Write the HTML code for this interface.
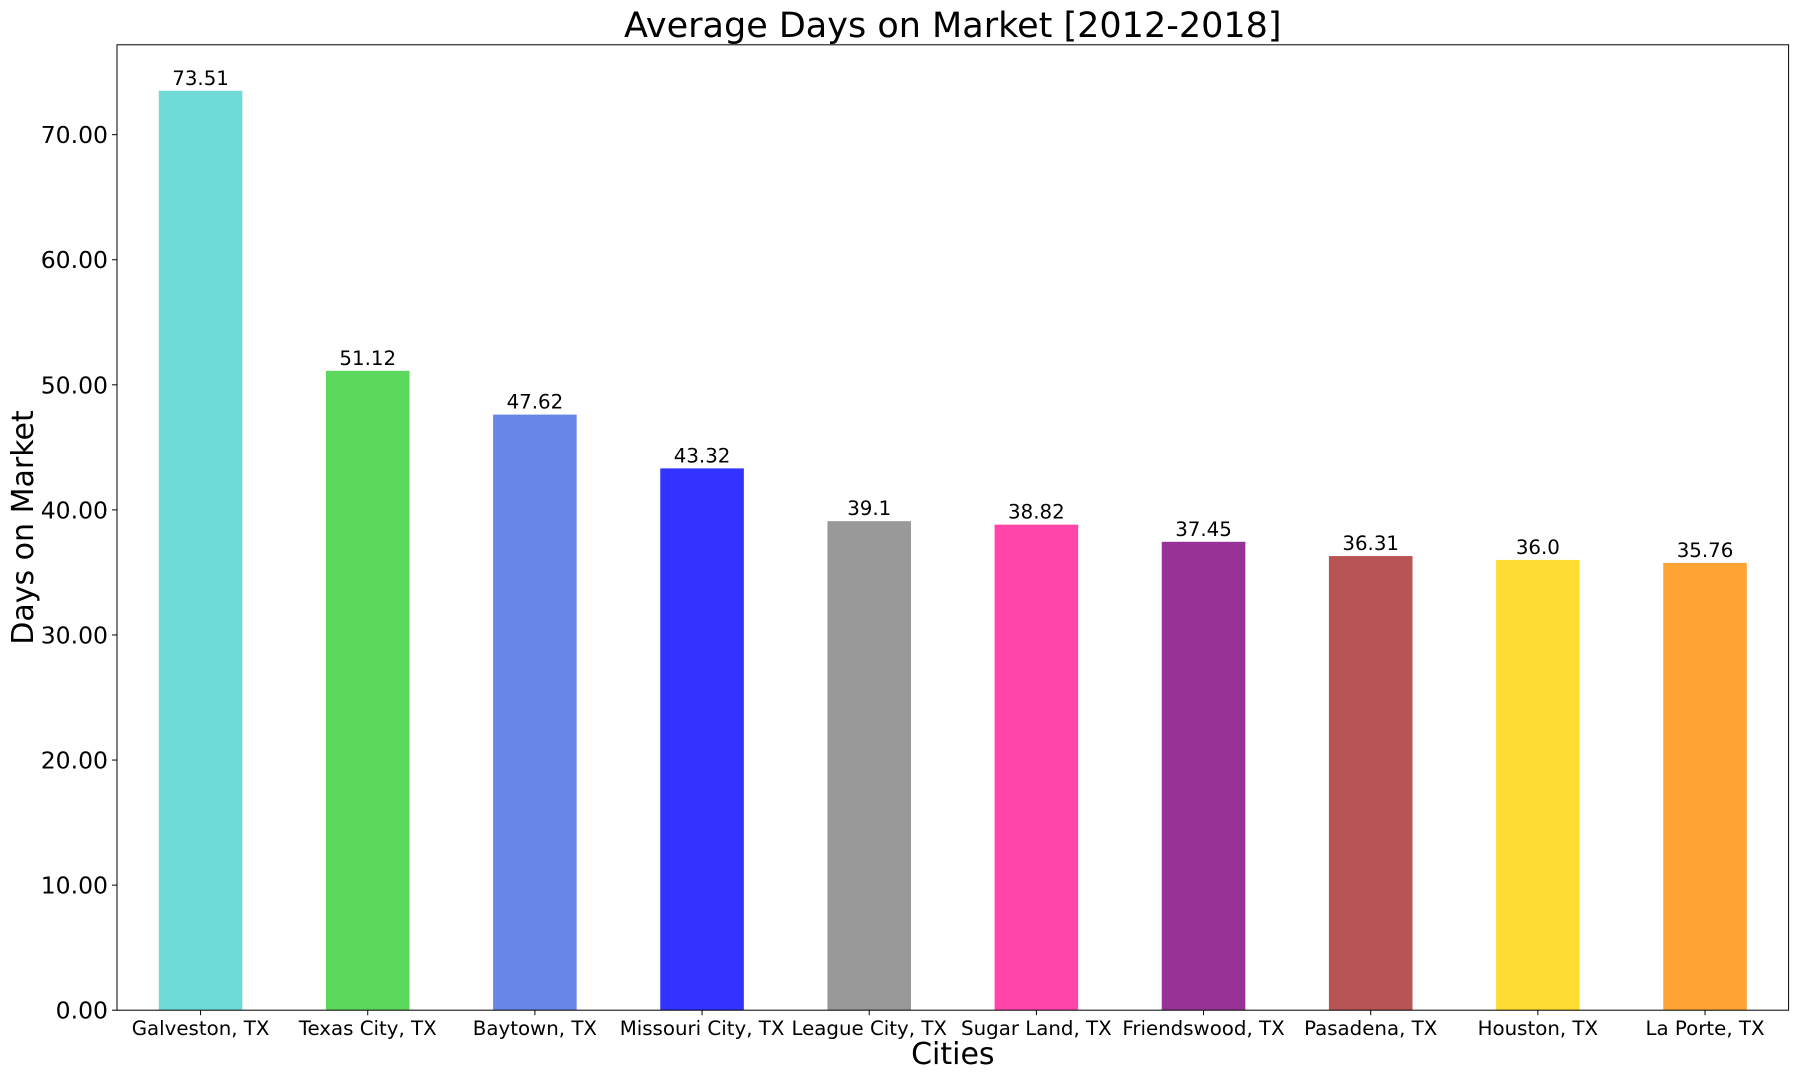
<!DOCTYPE html>
<html><head><meta charset="utf-8"><style>
html,body{margin:0;padding:0;background:#fff}
svg{display:block;font-family:"DejaVu Sans","Liberation Sans",sans-serif}
</style></head><body>
<svg id="chart" width="1800" height="1080" xmlns="http://www.w3.org/2000/svg"></svg>
<script>
const categories = ["Galveston, TX","Texas City, TX","Baytown, TX","Missouri City, TX","League City, TX","Sugar Land, TX","Friendswood, TX","Pasadena, TX","Houston, TX","La Porte, TX"];
const values = [73.51, 51.12, 47.62, 43.32, 39.1, 38.82, 37.45, 36.31, 36.0, 35.76];
const valueLabels = ["73.51","51.12","47.62","43.32","39.1","38.82","37.45","36.31","36.0","35.76"];
const colors = ["#6fdad6","#5cd85c","#6687e5","#3333ff","#999999","#ff44aa","#973397","#b85454","#ffdd33","#ffa333"];
const yTicks = [0,10,20,30,40,50,60,70];
const yTickLabels = ["0.00","10.00","20.00","30.00","40.00","50.00","60.00","70.00"];

const svg = document.getElementById('chart');
const NS = 'http://www.w3.org/2000/svg';
const L = 117, R = 1788.6, T = 44.8, B = 1010.2;
const yMax = Math.max(...values) * 1.05;
const y = v => B - v / yMax * (B - T);
const step = (R - L) / categories.length;
const x = i => L + step * (i + 0.5);
function mk(tag, attrs, text) {
  const e = document.createElementNS(NS, tag);
  for (const k in attrs) e.setAttribute(k, attrs[k]);
  if (text !== undefined) e.textContent = text;
  svg.appendChild(e);
  return e;
}
categories.forEach((c, i) => {
  const bw = step * 0.5;
  const r = mk('rect', {x: x(i) - bw / 2, y: y(values[i]), width: bw, height: B - y(values[i]), fill: colors[i]});
  
  
  const t = mk('text', {x: x(i), y: y(values[i]) - 6, 'text-anchor': 'middle', 'font-size': 19.8, fill: '#000'}, valueLabels[i]);
  
  
  mk('line', {x1: x(i), x2: x(i), y1: B, y2: B + 5, stroke: '#000', 'stroke-width': 1});
  const tl = mk('text', {x: x(i), y: B + 25, 'text-anchor': 'middle', 'font-size': 19.8, fill: '#000'}, c);
  
  
});
yTicks.forEach((v, i) => {
  mk('line', {x1: L - 5, x2: L, y1: y(v), y2: y(v), stroke: '#000', 'stroke-width': 1});
  const tl = mk('text', {x: L - 9, y: y(v) + 8.5, 'text-anchor': 'end', 'font-size': 23.5, fill: '#000'}, yTickLabels[i]);
  
  
});
const frame = mk('rect', {x: L, y: T, width: R - L, height: B - T, fill: 'none', stroke: '#000', 'stroke-width': 1});


const title = mk('text', {x: (L + R) / 2, y: 37, 'text-anchor': 'middle', 'font-size': 35, fill: '#000'}, 'Average Days on Market [2012-2018]');


const xl = mk('text', {x: (L + R) / 2, y: 1064, 'text-anchor': 'middle', 'font-size': 30, fill: '#000'}, 'Cities');


const yl = mk('text', {x: 0, y: 0, 'text-anchor': 'middle', 'font-size': 30, fill: '#000', transform: 'translate(33,' + ((T + B) / 2) + ') rotate(-90)'}, 'Days on Market');


</script>
</body></html>
